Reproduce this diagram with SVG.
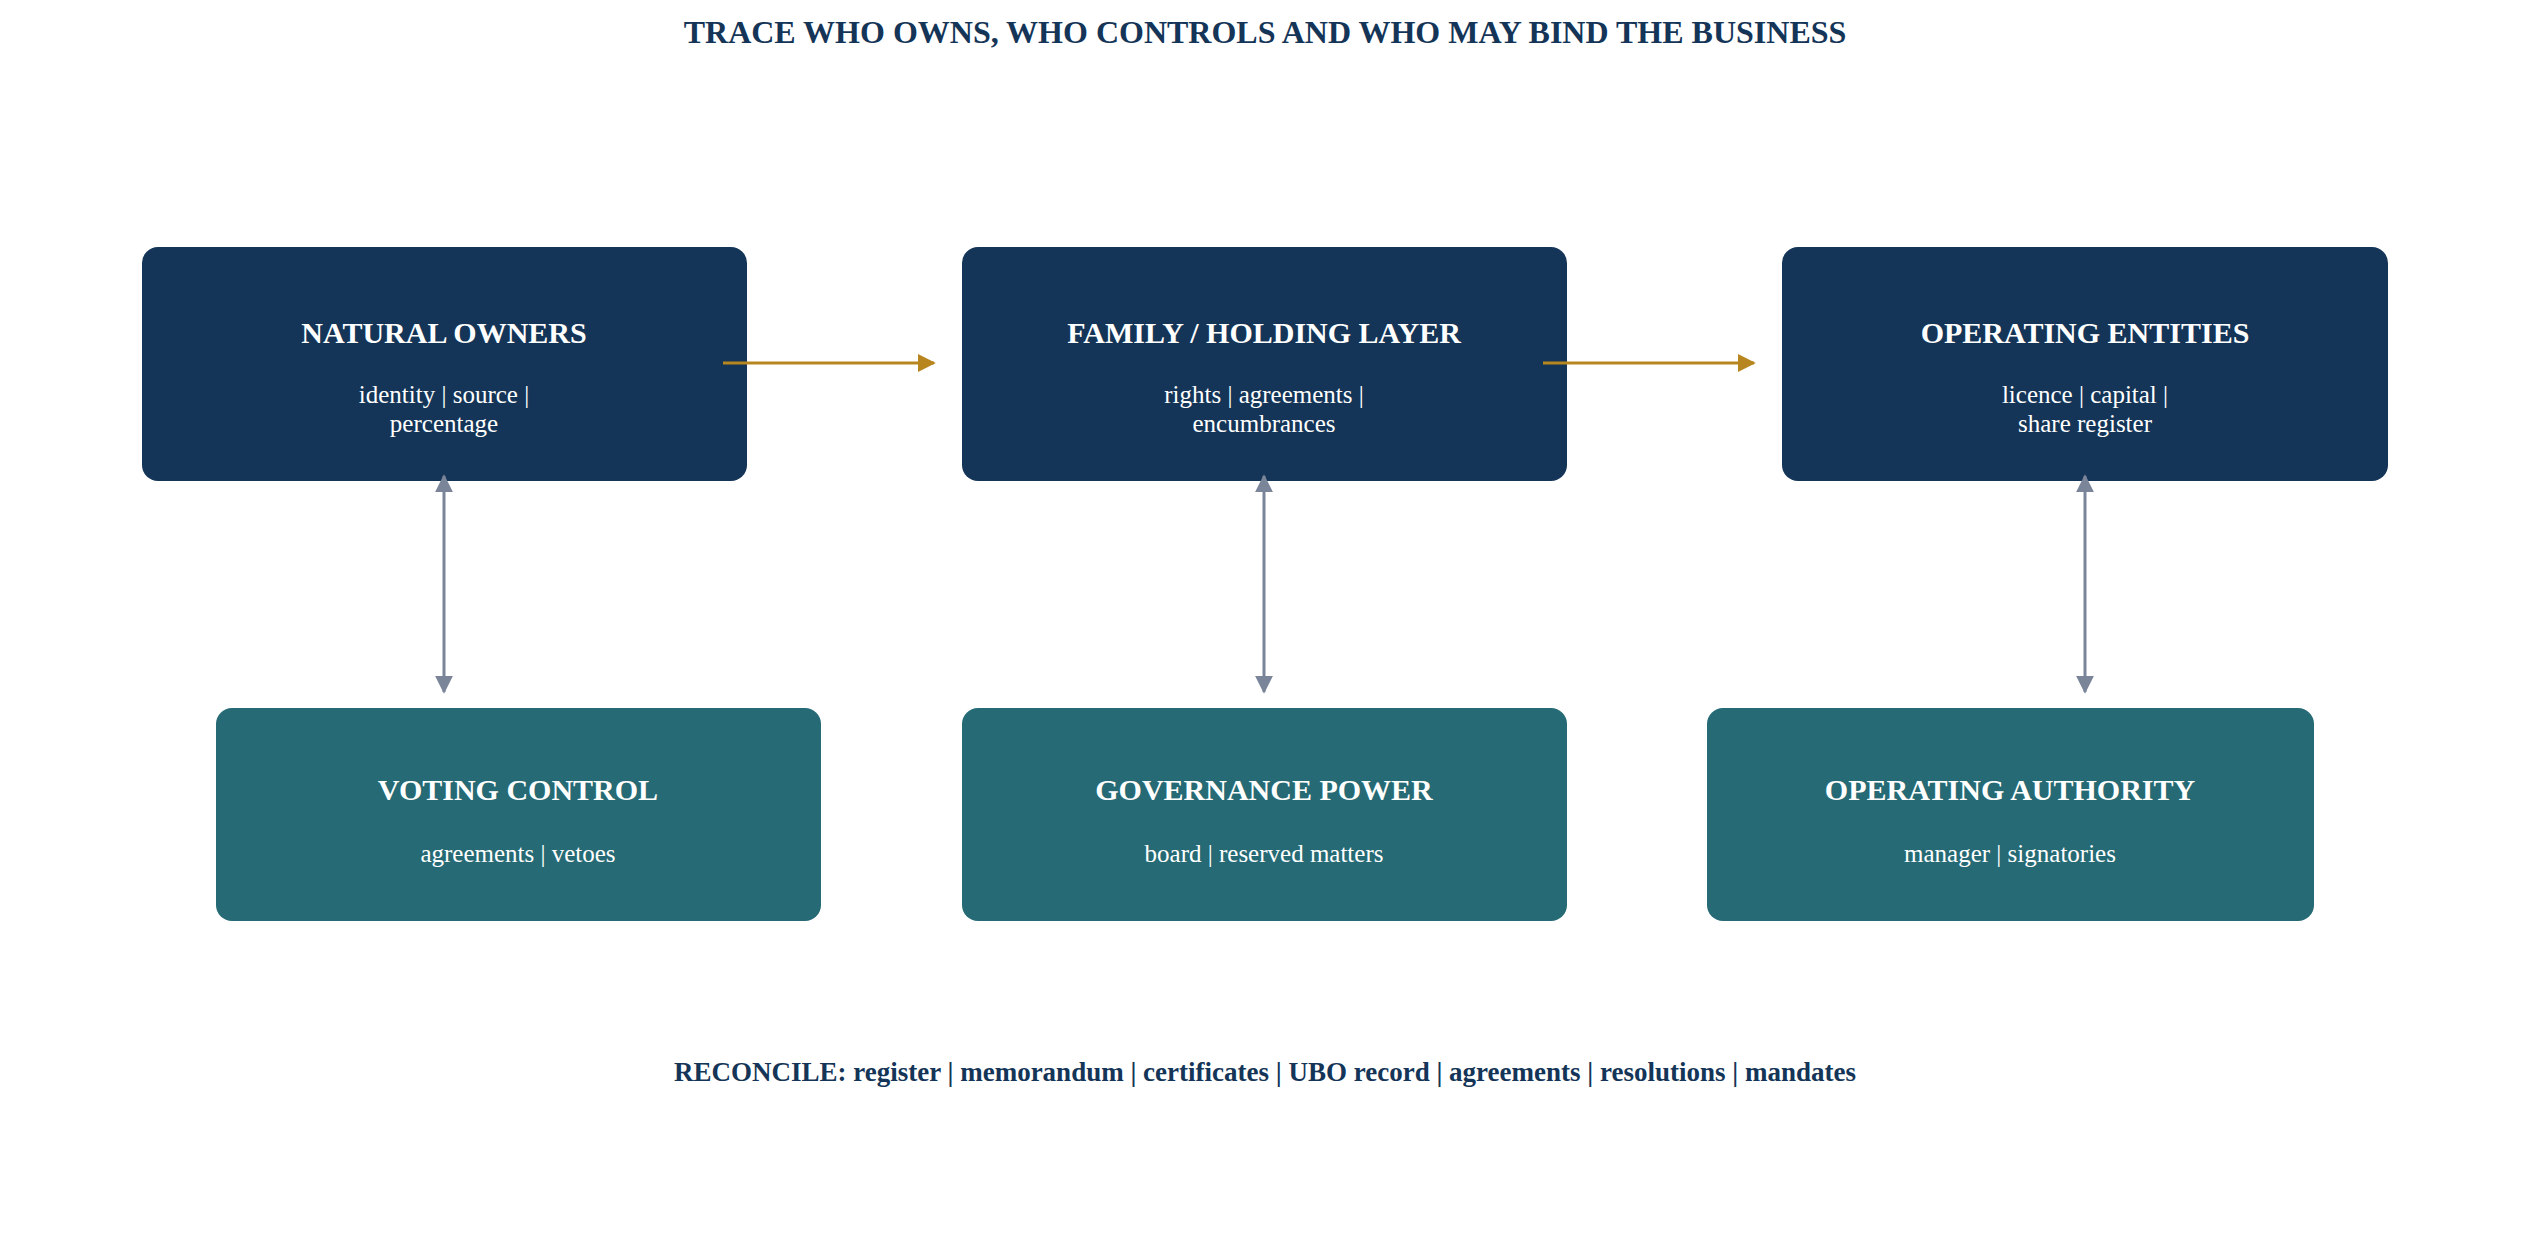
<svg xmlns="http://www.w3.org/2000/svg" width="2530" height="1254" viewBox="0 0 2530 1254">
<style>
text{font-family:"Liberation Serif","Times New Roman",serif;text-anchor:middle}
.t{fill:#fff;font-weight:bold;font-size:30px}
.s{fill:#fff;font-size:25px}
.n{fill:#143557}
.g{fill:#256a74}
.h{fill:#143557;font-weight:bold}
</style>
<defs>
<marker id="ag" viewBox="0 0 10 10" refX="9" refY="5" markerWidth="6" markerHeight="6" orient="auto"><path d="M0 0L10 5L0 10z" fill="#b8861f"/></marker>
<marker id="ay" viewBox="0 0 10 10" refX="9" refY="5" markerWidth="6" markerHeight="6" orient="auto-start-reverse"><path d="M0 0L10 5L0 10z" fill="#7a8599"/></marker>
</defs>
<rect width="2530" height="1254" fill="#fff"/>
<text class="h" x="1265" y="43" font-size="32">TRACE WHO OWNS, WHO CONTROLS AND WHO MAY BIND THE BUSINESS</text>
<g id="n1"><rect class="n" x="142" y="247" width="605" height="234" rx="16"/><text class="t" x="444" y="343">NATURAL OWNERS</text><text class="s" x="444" y="403">identity | source |</text><text class="s" x="444" y="432">percentage</text></g>
<g id="n2"><rect class="n" x="962" y="247" width="605" height="234" rx="16"/><text class="t" x="1264" y="343">FAMILY / HOLDING LAYER</text><text class="s" x="1264" y="403">rights | agreements |</text><text class="s" x="1264" y="432">encumbrances</text></g>
<g id="n3"><rect class="n" x="1782" y="247" width="606" height="234" rx="16"/><text class="t" x="2085" y="343">OPERATING ENTITIES</text><text class="s" x="2085" y="403">licence | capital |</text><text class="s" x="2085" y="432">share register</text></g>
<g id="n4"><rect class="g" x="216" y="708" width="605" height="213" rx="16"/><text class="t" x="518" y="800">VOTING CONTROL</text><text class="s" x="518" y="862">agreements | vetoes</text></g>
<g id="n5"><rect class="g" x="962" y="708" width="605" height="213" rx="16"/><text class="t" x="1264" y="800">GOVERNANCE POWER</text><text class="s" x="1264" y="862">board | reserved matters</text></g>
<g id="n6"><rect class="g" x="1707" y="708" width="607" height="213" rx="16"/><text class="t" x="2010" y="800">OPERATING AUTHORITY</text><text class="s" x="2010" y="862">manager | signatories</text></g>
<g id="connectors" stroke-width="3" fill="none">
<path d="M723 363H934" stroke="#b8861f" marker-end="url(#ag)"/>
<path d="M1543 363H1754" stroke="#b8861f" marker-end="url(#ag)"/>
<path d="M444 476V692" stroke="#7a8599" marker-start="url(#ay)" marker-end="url(#ay)"/>
<path d="M1264 476V692" stroke="#7a8599" marker-start="url(#ay)" marker-end="url(#ay)"/>
<path d="M2085 476V692" stroke="#7a8599" marker-start="url(#ay)" marker-end="url(#ay)"/>
</g>
<text class="h" x="1265" y="1081" font-size="27">RECONCILE: register | memorandum | certificates | UBO record | agreements | resolutions | mandates</text>
</svg>
